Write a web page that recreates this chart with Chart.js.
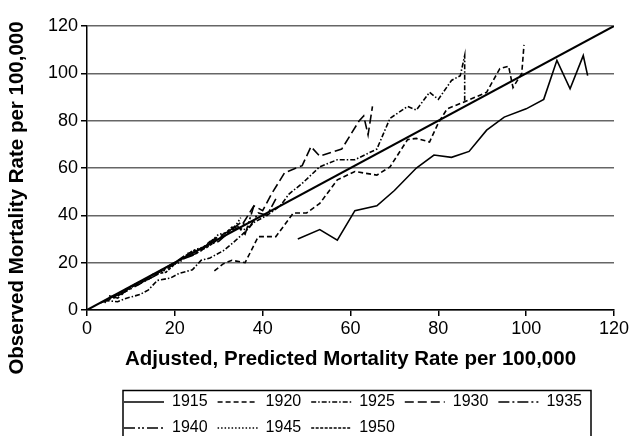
<!DOCTYPE html>
<html>
<head>
<meta charset="utf-8">
<script src="https://cdn.jsdelivr.net/npm/chart.js@4"></script>
<style>
  html, body { margin: 0; padding: 0; background: #fff; }
</style>
</head>
<body>
<canvas id="chart" width="634" height="436"></canvas>
<script>
// census years shown in the legend
const years = ['1915', '1920', '1925', '1930', '1935', '1940', '1945', '1950'];

// predicted (x) and observed (y) mortality per 100,000
const x1915 = [48, 53, 57, 61, 66, 70, 75, 79, 83, 87, 91, 95, 100, 104, 107, 110, 113, 114];
const y1915 = [30, 34, 29.5, 42, 44, 50.5, 60, 65.5, 64.5, 67, 76, 81.5, 85, 89, 105.5, 93.5, 107.5, 99];

const x1920 = [29, 31, 33, 36, 39, 43, 45, 47, 50, 53, 57, 61, 66, 69, 73, 75, 78, 80, 82, 86, 91, 94, 96, 97, 99, 99.5];
const y1920 = [16.5, 19.5, 21, 20, 31, 31, 36, 41, 41, 45, 55, 58.5, 57, 60.5, 72, 72.5, 71, 79, 85, 88, 92, 102, 103, 94, 100, 112];

const x1925 = [4, 7, 9, 12, 14, 16, 19, 21, 24, 26, 28, 31, 33, 36, 38, 41, 44, 46, 49, 53, 57, 61, 66, 69, 73, 75, 78, 80, 83, 85, 86, 86];
const y1925 = [4, 3.5, 5, 6.5, 8.5, 12.5, 13.5, 15.5, 17, 21, 22, 25, 28, 33, 37, 40, 44, 49, 53.5, 60.5, 63.5, 63.5, 68, 81, 86, 84.5, 92, 89, 97, 99, 107.5, 88];

const x1930 = [5, 8, 11, 14, 17, 20, 23, 26, 29, 32, 35, 38, 40, 42, 45, 49, 51, 53, 58, 62, 63, 64, 65];
const y1930 = [5, 7, 11, 13, 17, 20, 24, 25, 30, 33, 35, 44, 42, 49, 58, 61, 69, 65, 68, 80, 82, 74, 86];

const x1935 = [3, 6, 9, 12, 15, 18, 21, 24, 27, 30, 33, 35, 37, 39, 41, 43];
const y1935 = [3, 5, 8, 11, 15, 17, 21, 23, 27, 29, 34, 37, 35, 41, 40, 47];

const x1940 = [5, 7, 10, 13, 16, 19, 22, 25, 28, 31, 34, 36, 38];
const y1940 = [6, 5, 10, 12, 15, 19, 22, 24, 29, 31, 36, 32, 44];

const x1945 = [4, 6, 9, 12, 15, 18, 21, 24, 27, 30, 33, 35];
const y1945 = [3, 6, 8, 12, 14, 18, 20, 25, 27, 32, 33, 39];

const x1950 = [6, 9, 12, 15, 18, 21, 24, 27, 30, 33, 36];
const y1950 = [5, 9, 11, 15, 16, 21, 25, 26, 30, 35, 34];

// line of equality (observed = predicted)
const equalityLine = [0, 120];

const seriesX = [x1915, x1920, x1925, x1930, x1935, x1940, x1945, x1950];
const seriesY = [y1915, y1920, y1925, y1930, y1935, y1940, y1945, y1950];
const dashPatterns = [[], [5, 3], [5, 2, 1.5, 2], [9, 4], [11, 3, 2, 3], [11, 3, 2, 2, 2, 3], [1.5, 2], [3, 1.5]];

const datasets = years.map((yr, i) => ({
  label: yr,
  data: seriesX[i].map((x, j) => ({ x: x, y: seriesY[i][j] })),
  showLine: true,
  borderColor: '#000',
  borderWidth: 1.6,
  borderDash: dashPatterns[i],
  pointRadius: 0,
  fill: false
}));
datasets.push({
  label: 'equality',
  data: equalityLine.map(v => ({ x: v, y: v })),
  showLine: true,
  borderColor: '#000',
  borderWidth: 2,
  pointRadius: 0
});

// legend sits indented inside a frame; y title sits a bit lower than centre
const tweaks = {
  id: 'tweaks',
  afterLayout(chart) {
    const lg = chart.legend;
    lg.left += 114;
    lg.top += 10;
    lg.bottom += 10;

    const ys = chart.scales.y;
    if (!ys._titlePatched) {
      const drawTitle = ys.drawTitle;
      ys.drawTitle = function() {
        const t = this.top, b = this.bottom;
        this.top += 30;
        this.bottom += 30;
        drawTitle.call(this);
        this.top = t;
        this.bottom = b;
      };
      ys._titlePatched = true;
    }
  },
  afterDraw(chart) {
    const lg = chart.legend;
    const ctx = chart.ctx;
    ctx.save();
    ctx.strokeStyle = '#000';
    ctx.lineWidth = 1.5;
    ctx.strokeRect(lg.left + 9, lg.top + 6.5, 468, 60);
    ctx.restore();
  }
};

Chart.defaults.font.family = '"Liberation Sans", Arial, sans-serif';
Chart.defaults.color = '#000';

new Chart(document.getElementById('chart'), {
  type: 'scatter',
  data: { datasets: datasets },
  options: {
    responsive: false,
    animation: false,
    layout: { padding: { top: 26, right: 20, left: 0, bottom: 0 } },
    plugins: {
      legend: {
        position: 'bottom',
        align: 'start',
        maxWidth: 500,
        labels: {
          usePointStyle: true,
          pointStyle: 'line',
          pointStyleWidth: 40,
          boxHeight: 10,
          padding: 10,
          color: '#000',
          font: { size: 16 },
          generateLabels(chart) {
            const items = Chart.defaults.plugins.legend.labels.generateLabels(chart);
            return items.filter(it => it.text !== 'equality').map(it => {
              const ds = chart.data.datasets[it.datasetIndex];
              it.lineDash = ds.borderDash;
              it.lineWidth = 1.5;
              it.strokeStyle = '#000';
              return it;
            });
          }
        }
      },
      tooltip: { enabled: false }
    },
    scales: {
      x: {
        type: 'linear',
        min: 0,
        max: 120,
        ticks: { stepSize: 20, color: '#000', font: { size: 18 }, padding: 2 },
        grid: { drawOnChartArea: false, color: '#000', tickLength: 6, lineWidth: 1.5 },
        border: { color: '#000', width: 1.5 },
        title: {
          display: true,
          text: 'Adjusted, Predicted Mortality Rate per 100,000',
          color: '#000',
          font: { size: 20.5, weight: 'bold' },
          padding: { top: 2, bottom: 2 }
        },
        afterFit(scale) { scale.height = 64; }
      },
      y: {
        min: 0,
        max: 120,
        ticks: { stepSize: 20, color: '#000', font: { size: 18 }, padding: 3 },
        grid: { color: '#666', tickColor: '#000', tickLength: 6, lineWidth: 1.5 },
        border: { color: '#000', width: 1.5 },
        title: {
          display: true,
          text: 'Observed Mortality Rate per 100,000',
          color: '#000',
          font: { size: 20.5, weight: 'bold' },
          padding: { top: 5, bottom: 0 }
        },
        afterFit(scale) { scale.width = 87; }
      }
    }
  },
  plugins: [tweaks]
});
</script>
</body>
</html>
